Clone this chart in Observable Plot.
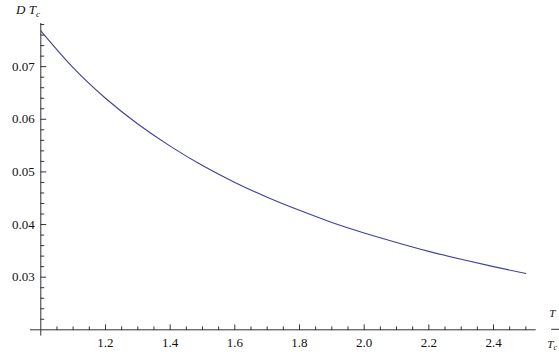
<!DOCTYPE html>
<html>
<head>
<meta charset="utf-8">
<script src="https://cdn.jsdelivr.net/npm/d3@7"></script>
<script src="https://cdn.jsdelivr.net/npm/@observablehq/plot@0.6"></script>
<style>
  html, body { margin: 0; padding: 0; background: #fff; }
  #chart svg { display: block; }
  #chart svg text { font-family: "Liberation Serif", "Times New Roman", "DejaVu Serif", serif !important; }
</style>
</head>
<body>
<div id="chart"></div>
<script>
// Reduced temperature T/Tc and the corresponding D Tc values
const tRatio = [1.0, 1.1, 1.2, 1.3, 1.4, 1.5, 1.6, 1.7, 1.8, 1.9, 2.0, 2.1, 2.2, 2.3, 2.4, 2.5];
const dTc = [0.0768, 0.0698, 0.0640, 0.0591, 0.0549, 0.0512, 0.0480, 0.0452, 0.0427, 0.0404,
             0.0384, 0.0366, 0.0349, 0.0334, 0.0320, 0.0307];

// Axis ticks
const xMajorTicks = [1.2, 1.4, 1.6, 1.8, 2.0, 2.2, 2.4];
const xMajorLabels = ["1.2", "1.4", "1.6", "1.8", "2.0", "2.2", "2.4"];
const yMajorTicks = [0.03, 0.04, 0.05, 0.06, 0.07];
const yMajorLabels = ["0.03", "0.04", "0.05", "0.06", "0.07"];
const xMinorTicks = d3.range(21, 51).map(i => i / 20).filter(v => !xMajorTicks.some(m => Math.abs(m - v) < 1e-9));
const yMinorTicks = d3.range(11, 40).map(i => i / 500).filter(v => !yMajorTicks.some(m => Math.abs(m - v) < 1e-9));

// Axis origin and extents
const xOrigin = 1.0, yOrigin = 0.02;
const xDomain = [1.0, 2.532];
const yDomain = [0.02, 0.0782];

const axisColor = "#333";
const curveColor = "#3f3f9e";
const serif = "Liberation Serif";

// Short straight tick drawn from the anchor point
const tickShape = { draw(context, l) { context.moveTo(0, 0); context.lineTo(0, -l); } };
const table = tRatio.map((t, i) => ({ t, d: dTc[i] }));

const plot = Plot.plot({
  width: 559,
  height: 358,
  marginLeft: 40.3,
  marginRight: 23.3,
  marginTop: 23,
  marginBottom: 28.7,
  style: { fontSize: "13px", background: "#fff", color: "#111" },
  x: { domain: xDomain, axis: null },
  y: { domain: yDomain, axis: null },
  marks: [
    // axis lines
    Plot.ruleY([yOrigin], { x1: 0.968, x2: xDomain[1], stroke: axisColor, strokeWidth: 1 }),
    Plot.ruleX([xOrigin], { y1: 0.0188, y2: yDomain[1], stroke: axisColor, strokeWidth: 1 }),
    // x ticks (pointing into the plot)
    Plot.vector(xMajorTicks, { x: d => d, y: () => yOrigin, length: 5, rotate: 0, anchor: "start", shape: tickShape, stroke: axisColor, fill: "none", strokeWidth: 1 }),
    Plot.vector(xMinorTicks, { x: d => d, y: () => yOrigin, length: 3, rotate: 0, anchor: "start", shape: tickShape, stroke: axisColor, fill: "none", strokeWidth: 1 }),
    // y ticks
    Plot.vector(yMajorTicks, { x: () => xOrigin, y: d => d, length: 5, rotate: 90, anchor: "start", shape: tickShape, stroke: axisColor, fill: "none", strokeWidth: 1 }),
    Plot.vector(yMinorTicks, { x: () => xOrigin, y: d => d, length: 3, rotate: 90, anchor: "start", shape: tickShape, stroke: axisColor, fill: "none", strokeWidth: 1 }),
    // tick labels
    Plot.text(xMajorTicks, { x: d => d, y: () => yOrigin, text: (d, i) => xMajorLabels[i], dy: 13, lineAnchor: "middle", fill: "#111", fontFamily: serif }),
    Plot.text(yMajorTicks, { x: () => xOrigin, y: d => d, text: (d, i) => yMajorLabels[i], dx: -6, textAnchor: "end", lineAnchor: "middle", fill: "#111", fontFamily: serif }),
    // the curve
    Plot.line(table, { x: "t", y: "d", curve: "natural", stroke: curveColor, strokeWidth: 1.1 })
  ]
});

const svg = d3.select(plot);
const xs = plot.scale("x"), ys = plot.scale("y");

// y-axis label: D T_c
const yLab = svg.append("text")
  .attr("x", 28).attr("y", 14)
  .attr("font-size", 13).attr("font-style", "italic").attr("fill", "#111");
yLab.append("tspan").text("D T");
yLab.append("tspan").attr("font-size", 9).attr("dy", 3).text("c");

// x-axis label: T / T_c
const lx = xs.apply(xDomain[1]) + 15.5;
const ly = ys.apply(yOrigin);
svg.append("text")
  .attr("x", lx + 1).attr("y", ly - 12.5)
  .attr("font-size", 11).attr("font-style", "italic").attr("fill", "#111")
  .text("T");
svg.append("line")
  .attr("x1", lx).attr("x2", 560).attr("y1", ly).attr("y2", ly)
  .attr("stroke", axisColor).attr("stroke-width", 1);
const xLab = svg.append("text")
  .attr("x", lx + 1).attr("y", ly + 18.5)
  .attr("font-size", 11).attr("font-style", "italic").attr("fill", "#111");
xLab.append("tspan").text("T");
xLab.append("tspan").attr("font-size", 8).attr("dy", 2.5).text("c");

document.getElementById("chart").append(plot);
</script>
</body>
</html>
